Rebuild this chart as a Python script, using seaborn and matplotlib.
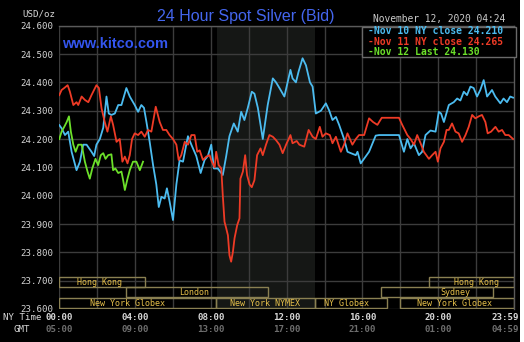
import numpy as np
import pandas as pd
import matplotlib
matplotlib.use("Agg")
import matplotlib.pyplot as plt
import matplotlib.transforms as mtransforms
from matplotlib.patches import Rectangle
import seaborn as sns

# ---------------- data ----------------
nov10_hours = [0.00, 0.12, 0.30, 0.47, 0.65, 0.91, 1.09, 1.26, 1.44, 1.70, 1.84, 1.96, 2.14, 2.32, 2.49,
               2.61, 2.75, 2.93, 3.11, 3.28, 3.54, 3.72, 3.98, 4.16, 4.33, 4.47, 4.60, 4.77, 4.95, 5.12,
               5.25, 5.39, 5.56, 5.68, 5.82, 6.00, 6.18, 6.35, 6.53, 6.70, 6.79, 6.97, 7.23, 7.46, 7.67,
               7.84, 8.02, 8.16, 8.37, 8.63, 8.81, 8.98, 9.21, 9.42, 9.60, 9.77, 9.95, 10.16, 10.30, 10.48,
               10.74, 11.00, 11.27, 11.44, 11.62, 11.88, 12.20, 12.31, 12.49, 12.63, 12.84, 13.02, 13.23,
               13.37, 13.54, 13.81, 14.07, 14.25, 14.42, 14.60, 14.77, 15.03, 15.21, 15.39, 15.65, 15.74,
               15.91, 16.35, 16.70, 16.88, 17.93, 18.19, 18.37, 18.54, 18.72, 18.98, 19.15, 19.33, 19.59,
               19.86, 20.03, 20.15, 20.30, 20.56, 20.82, 21.00, 21.17, 21.35, 21.52, 21.70, 21.87, 22.05,
               22.22, 22.40, 22.58, 22.84, 23.01, 23.28, 23.45, 23.63, 23.80, 23.95]
nov10_price = [24.249, 24.238, 24.214, 24.226, 24.155, 24.090, 24.120, 24.180, 24.180, 24.155, 24.140,
               24.180, 24.200, 24.240, 24.350, 24.290, 24.285, 24.290, 24.320, 24.320, 24.380, 24.350,
               24.320, 24.296, 24.320, 24.310, 24.260, 24.190, 24.108, 24.040, 23.960, 23.996, 23.990,
               24.026, 23.980, 23.914, 24.040, 24.125, 24.120, 24.180, 24.210, 24.180, 24.140, 24.080,
               24.126, 24.140, 24.180, 24.096, 24.096, 24.073, 24.140, 24.210, 24.255, 24.226, 24.296,
               24.267, 24.310, 24.367, 24.360, 24.310, 24.200, 24.320, 24.414, 24.400, 24.380, 24.350,
               24.444, 24.414, 24.400, 24.438, 24.485, 24.460, 24.400, 24.385, 24.290, 24.300, 24.326,
               24.300, 24.267, 24.278, 24.250, 24.200, 24.155, 24.150, 24.143, 24.155, 24.114, 24.155,
               24.212, 24.214, 24.214, 24.155, 24.200, 24.167, 24.185, 24.143, 24.155, 24.214, 24.230,
               24.226, 24.296, 24.290, 24.260, 24.320, 24.330, 24.343, 24.336, 24.367, 24.355, 24.385,
               24.380, 24.350, 24.373, 24.408, 24.350, 24.373, 24.350, 24.326, 24.343, 24.330, 24.350,
               24.346]

nov11_hours = [0.00, 0.12, 0.26, 0.44, 0.56, 0.74, 0.91, 1.00, 1.18, 1.35, 1.53, 1.70, 1.96, 2.09, 2.23,
               2.40, 2.54, 2.72, 2.84, 3.02, 3.19, 3.33, 3.46, 3.60, 3.72, 3.84, 3.98, 4.16, 4.33, 4.51,
               4.68, 4.86, 5.09, 5.30, 5.47, 5.65, 5.82, 6.00, 6.18, 6.30, 6.44, 6.62, 6.79, 6.97, 7.14,
               7.28, 7.41, 7.58, 7.76, 7.93, 8.05, 8.20, 8.28, 8.41, 8.55, 8.63, 8.72, 8.81, 8.90, 8.98,
               9.07, 9.16, 9.25, 9.39, 9.51, 9.56, 9.69, 9.81, 9.91, 10.04, 10.16, 10.30, 10.44, 10.62,
               10.74, 10.91, 11.09, 11.27, 11.44, 11.62, 11.79, 11.97, 12.20, 12.31, 12.53, 12.67, 12.93,
               13.16, 13.37, 13.54, 13.75, 13.89, 14.07, 14.28, 14.42, 14.60, 14.86, 15.03, 15.21, 15.47,
               15.65, 15.82, 16.09, 16.35, 16.56, 16.79, 17.02, 17.93, 18.10, 18.37, 18.54, 18.72, 18.89,
               19.07, 19.24, 19.51, 19.68, 19.86, 19.98, 20.12, 20.30, 20.44, 20.56, 20.73, 20.91, 21.08,
               21.26, 21.44, 21.61, 21.79, 21.96, 22.14, 22.31, 22.49, 22.61, 22.79, 23.02, 23.19, 23.37,
               23.54, 23.72, 23.95]
nov11_price = [24.355, 24.373, 24.380, 24.390, 24.367, 24.320, 24.330, 24.320, 24.350, 24.338, 24.330,
               24.355, 24.390, 24.380, 24.308, 24.260, 24.226, 24.280, 24.250, 24.190, 24.200, 24.120,
               24.138, 24.114, 24.143, 24.200, 24.220, 24.214, 24.226, 24.208, 24.232, 24.226, 24.314,
               24.260, 24.232, 24.232, 24.214, 24.200, 24.180, 24.126, 24.143, 24.190, 24.180, 24.214,
               24.214, 24.155, 24.160, 24.126, 24.138, 24.143, 24.120, 24.100, 24.155, 24.108, 24.096,
               24.000, 23.908, 23.885, 23.860, 23.790, 23.767, 23.800, 23.850, 23.896, 23.920, 24.060,
               24.085, 24.143, 24.073, 24.040, 24.030, 24.055, 24.143, 24.167, 24.143, 24.180, 24.214,
               24.208, 24.196, 24.180, 24.150, 24.180, 24.214, 24.185, 24.193, 24.180, 24.173, 24.232,
               24.208, 24.200, 24.243, 24.208, 24.220, 24.214, 24.185, 24.208, 24.155, 24.180, 24.220,
               24.180, 24.200, 24.214, 24.214, 24.273, 24.260, 24.250, 24.275, 24.275, 24.250, 24.214,
               24.200, 24.180, 24.214, 24.185, 24.155, 24.130, 24.143, 24.155, 24.120, 24.167, 24.190,
               24.232, 24.232, 24.255, 24.226, 24.220, 24.190, 24.214, 24.243, 24.285, 24.273, 24.280,
               24.285, 24.260, 24.220, 24.226, 24.243, 24.226, 24.232, 24.214, 24.214, 24.200]

nov12_hours = [0.00, 0.12, 0.26, 0.39, 0.51, 0.61, 0.74, 0.86, 1.00, 1.18, 1.35, 1.49, 1.61, 1.74, 1.91,
               2.05, 2.19, 2.32, 2.44, 2.58, 2.75, 2.84, 2.96, 3.11, 3.28, 3.37, 3.46, 3.60, 3.72, 3.89,
               4.07, 4.25, 4.42]
nov12_price = [24.200, 24.226, 24.243, 24.260, 24.280, 24.226, 24.180, 24.155, 24.180, 24.180, 24.120,
               24.085, 24.060, 24.096, 24.130, 24.108, 24.143, 24.150, 24.130, 24.143, 24.146, 24.090,
               24.096, 24.080, 24.085, 24.055, 24.020, 24.060, 24.090, 24.120, 24.120, 24.090, 24.120]

series_names = ["Nov 10", "Nov 11", "Nov 12"]
legend_labels = ["Nov 10 NY close 24.210", "Nov 11 NY close 24.265", "Nov 12 Last 24.130"]

y_ticks = [23.6, 23.7, 23.8, 23.9, 24.0, 24.1, 24.2, 24.3, 24.4, 24.5, 24.6]
x_tick_hours = [0, 4, 8, 12, 16, 20, 23.98]
ny_labels = ["00:00", "04:00", "08:00", "12:00", "16:00", "20:00", "23:59"]
gmt_labels = ["05:00", "09:00", "13:00", "17:00", "21:00", "01:00", "04:59"]

session_names = ["Hong Kong", "London", "New York Globex", "New York NYMEX", "NY Globex",
                 "New York Globex", "Hong Kong", "Sydney"]
session_start = [0.0, 3.5, 0.0, 8.25, 13.5, 18.0, 19.5, 17.0]
session_end = [4.5, 11.0, 8.25, 13.5, 17.3, 24.0, 24.0, 22.9]
session_row = [0, 1, 2, 2, 2, 2, 0, 1]
session_text_x = [2.14, 7.14, 3.6, 10.85, 15.14, 20.88, 22.0, 20.88]

nymex_start, nymex_end = 8.33, 13.5

# ---------------- figure ----------------
W, H = 524, 342
fig = plt.figure(figsize=(W / 100, H / 100), dpi=100, facecolor="black")
L, R, T, B = 59.3, 514.0, 25.7, 309.0
ax = fig.add_axes([L / W, 1 - B / H, (R - L) / W, (B - T) / H])
ax.set_facecolor("black")

mono = "DejaVu Sans Mono"
blue, red, green = "#4cbcf0", "#ee3b26", "#6ce02a"

df = pd.concat([
    pd.DataFrame({"hour": nov10_hours, "price": nov10_price, "day": series_names[0]}),
    pd.DataFrame({"hour": nov11_hours, "price": nov11_price, "day": series_names[1]}),
    pd.DataFrame({"hour": nov12_hours, "price": nov12_price, "day": series_names[2]}),
])

ax.axvspan(nymex_start, nymex_end, color="#151715", zorder=0.1, lw=0)

sns.lineplot(data=df, x="hour", y="price", hue="day", palette=[blue, red, green],
             estimator=None, sort=False, lw=1.3, legend=False, ax=ax, zorder=3)

ax.set_xlim(0, 24)
ax.set_ylim(23.6, 24.6)
ax.set_xlabel("")
ax.set_ylabel("")
ax.set_xticks(np.arange(0, 24, 2))
ax.set_xticklabels([])
ax.set_yticks(y_ticks)
ax.set_yticklabels([f"{v:.3f}" for v in y_ticks], family=mono, fontsize=6.6, color="#d4d4d4")
ax.tick_params(length=0, pad=4)
ax.set_axisbelow(True)
ax.grid(True, color="#3c3c3c", lw=1)
for s in ["left", "bottom"]:
    ax.spines[s].set_visible(False)
for s in ["top", "right"]:
    ax.spines[s].set_color("#5a5a5a")
    ax.spines[s].set_linewidth(1)

# session boxes
row_y = [23.677, 23.642, 23.603]
row_h = 0.036
for name, s0, s1, r, tx in zip(session_names, session_start, session_end, session_row, session_text_x):
    ax.add_patch(Rectangle((s0, row_y[r]), s1 - s0, row_h, fill=False,
                           edgecolor="#8a8052", lw=1, zorder=2))
    ax.text(tx, row_y[r] + row_h / 2, name, ha="center", va="center", family=mono,
            fontsize=6, color="#e6c04a", zorder=2)

# x labels (two rows)
tr = mtransforms.blended_transform_factory(ax.transData, fig.transFigure)
for i, (h, a, g) in enumerate(zip(x_tick_hours, ny_labels, gmt_labels)):
    ha = "center"
    t = tr
    if i == len(x_tick_hours) - 1:
        ha = "right"
        t = mtransforms.offset_copy(tr, fig=fig, x=5, units="dots")
    fig.text(h, 1 - 318 / H, a, transform=t, ha=ha, va="center", family=mono,
             fontsize=6.6, color="#d8d8d8", weight="bold")
    fig.text(h, 1 - 329 / H, g, transform=t, ha=ha, va="center", family=mono,
             fontsize=6.6, color="#6e6e6e", weight="bold")
fig.text(3 / W, 1 - 318 / H, "NY Time", ha="left", va="center", family=mono,
         fontsize=6.6, color="#d8d8d8")
fig.text(14 / W, 1 - 329 / H, "GMT", ha="left", va="center", family=mono,
         fontsize=6.6, color="#d8d8d8")

# header texts
fig.text(55 / W, 1 - 14 / H, "USD/oz", ha="right", va="center", family=mono,
         fontsize=6.6, color="#d4d4d4")
fig.text(246 / W, 1 - 16 / H, "24 Hour Spot Silver (Bid)", ha="center", va="center",
         family="Liberation Sans", fontsize=11.5, color="#4466ee")
fig.text(62 / W, 1 - 44 / H, "www.kitco.com", ha="left", va="center",
         family="Liberation Sans", fontsize=10.5, weight="bold", color="#3355ee", zorder=6)
fig.text(373 / W, 1 - 19 / H, "November 12, 2020 04:24", ha="left", va="center",
         family=mono, fontsize=6.9, color="#cccccc")

# legend box
fig.add_artist(Rectangle((362 / W, 1 - 57 / H), 154 / W, 30 / H, transform=fig.transFigure,
                         facecolor="black", edgecolor="#6a6a6a", lw=1, zorder=5))
for i, (lab, col) in enumerate(zip(legend_labels, [blue, red, green])):
    fig.text(368 / W, 1 - (31.5 + 10.3 * i) / H, "-" + lab, ha="left", va="center",
             family=mono, fontsize=7, weight="bold", color=col, zorder=6)

# white strip at right edge
fig.add_artist(Rectangle((520 / W, 0), 4 / W, 1, transform=fig.transFigure,
                         facecolor="white", edgecolor="none", zorder=10))

fig.savefig("out.png", dpi=100, facecolor="black")
